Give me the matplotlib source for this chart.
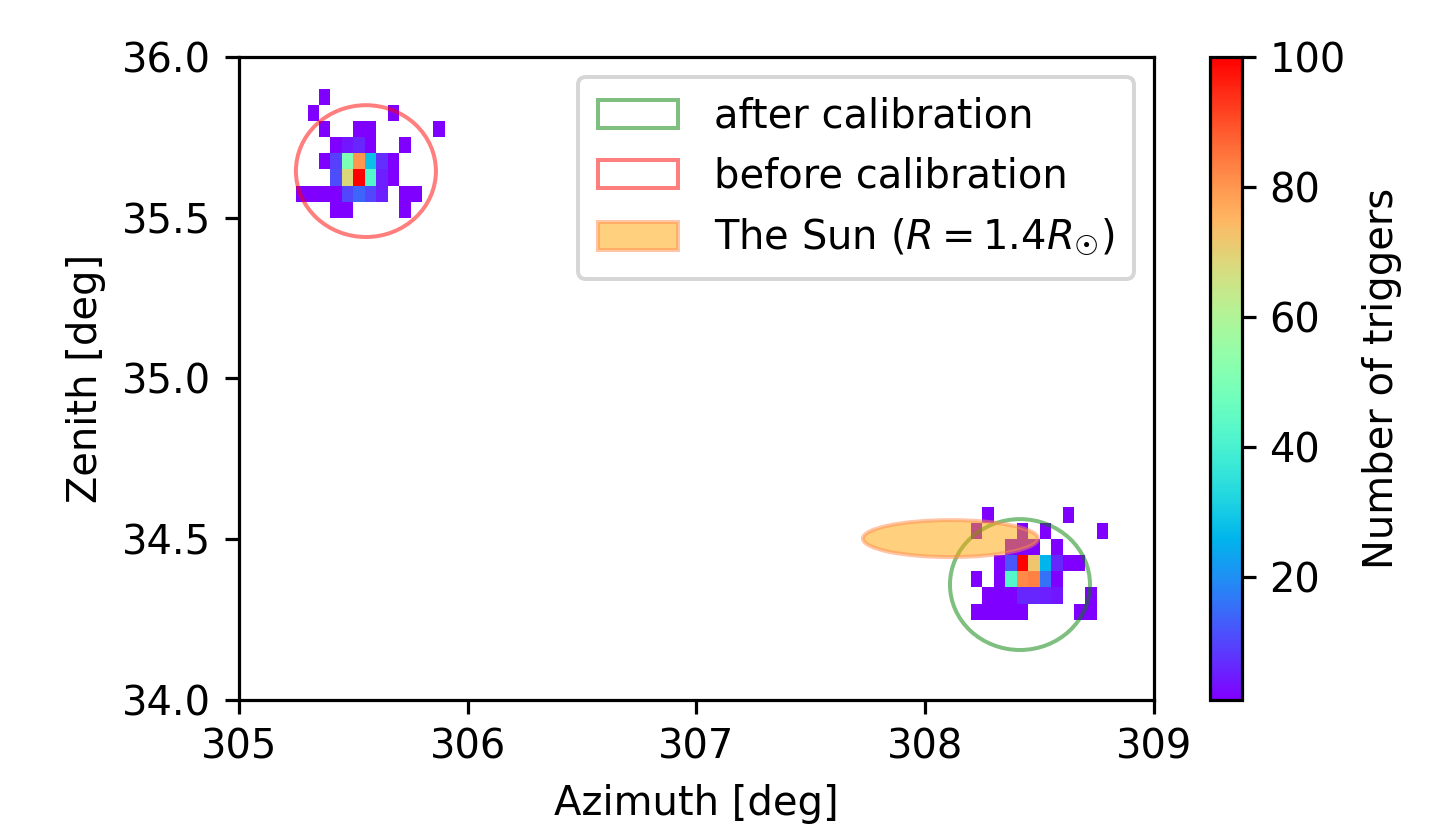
import numpy as np
import matplotlib
matplotlib.use('Agg')
import matplotlib.pyplot as plt
from matplotlib.patches import Ellipse

# trigger map, 0.05 deg bins (bin centres + counts)
az_before = [305.375,
             305.325, 305.675,
             305.375, 305.525, 305.575, 305.875,
             305.425, 305.475, 305.525, 305.575, 305.725,
             305.375, 305.425, 305.475, 305.525, 305.575, 305.625, 305.675,
             305.425, 305.475, 305.525, 305.575, 305.625, 305.675,
             305.275, 305.325, 305.375, 305.425, 305.475, 305.525, 305.575, 305.625, 305.725, 305.775,
             305.425, 305.475, 305.725]
zen_before = [35.875,
              35.825, 35.825,
              35.775, 35.775, 35.775, 35.775,
              35.725, 35.725, 35.725, 35.725, 35.725,
              35.675, 35.675, 35.675, 35.675, 35.675, 35.675, 35.675,
              35.625, 35.625, 35.625, 35.625, 35.625, 35.625,
              35.575, 35.575, 35.575, 35.575, 35.575, 35.575, 35.575, 35.575, 35.575, 35.575,
              35.525, 35.525, 35.525]
cnt_before = [1,
              1, 1,
              1, 1, 1, 1,
              1, 4, 6, 1, 1,
              1, 9, 50, 80, 28, 7, 1,
              11, 68, 100, 42, 5, 1,
              1, 1, 1, 1, 10, 14, 10, 5, 1, 1,
              1, 1, 1]

az_after = [308.275, 308.625,
            308.225, 308.425, 308.525, 308.775,
            308.375, 308.425, 308.475, 308.575,
            308.325, 308.375, 308.425, 308.475, 308.525, 308.575, 308.625, 308.675,
            308.225, 308.325, 308.375, 308.425, 308.475, 308.525, 308.575,
            308.275, 308.325, 308.375, 308.425, 308.475, 308.525, 308.575, 308.725,
            308.225, 308.275, 308.325, 308.375, 308.425, 308.675, 308.725]
zen_after = [34.575, 34.575,
             34.525, 34.525, 34.525, 34.525,
             34.475, 34.475, 34.475, 34.475,
             34.425, 34.425, 34.425, 34.425, 34.425, 34.425, 34.425, 34.425,
             34.375, 34.375, 34.375, 34.375, 34.375, 34.375, 34.375,
             34.325, 34.325, 34.325, 34.325, 34.325, 34.325, 34.325, 34.325,
             34.275, 34.275, 34.275, 34.275, 34.275, 34.275, 34.275]
cnt_after = [1, 1,
             1, 1, 1, 1,
             1, 1, 1, 1,
             1, 12, 100, 72, 26, 6, 1, 1,
             1, 1, 42, 82, 83, 16, 1,
             1, 1, 1, 6, 6, 5, 4, 1,
             1, 1, 1, 1, 1, 1, 1]

# circles (centre az, centre zen, width, height)
before_circ = (305.555, 35.645, 0.612, 0.41)
after_circ = (308.414, 34.359, 0.612, 0.407)
sun = (308.11, 34.502, 0.765, 0.115)

az = np.array(az_before + az_after)
zen = np.array(zen_before + zen_after)
cnt = np.array(cnt_before + cnt_after, dtype=float)

xbins = np.linspace(305, 309, 81)
ybins = np.linspace(34, 36, 41)

DPI = 288
fig = plt.figure(figsize=(1442 / DPI, 828 / DPI), dpi=DPI)
ax = fig.add_axes([0.1657, 0.1546, 0.6346, 0.7766])
cax = fig.add_axes([0.839, 0.1546, 0.022, 0.7766])

h = ax.hist2d(az, zen, bins=[xbins, ybins], weights=cnt, cmin=1,
              cmap='rainbow', vmin=1, vmax=100)

ax.add_patch(Ellipse(after_circ[:2], after_circ[2], after_circ[3], fill=False,
                     edgecolor='green', alpha=0.5, lw=1.0, label='after calibration'))
ax.add_patch(Ellipse(before_circ[:2], before_circ[2], before_circ[3], fill=False,
                     edgecolor='red', alpha=0.5, lw=1.0, label='before calibration'))
ax.add_patch(Ellipse(sun[:2], sun[2], sun[3], facecolor='orange', edgecolor='#ff8c50',
                     alpha=0.5, lw=1.0, label='The Sun ($R=1.4R_{☉}$)'))

ax.set_xlim(305, 309)
ax.set_ylim(34, 36)
ax.set_xticks([305, 306, 307, 308, 309])
ax.set_yticks([34.0, 34.5, 35.0, 35.5, 36.0])
ax.set_xlabel('Azimuth [deg]')
ax.set_ylabel('Zenith [deg]')
ax.legend(loc='upper right', handletextpad=0.9, borderpad=0.5)

cb = fig.colorbar(h[3], cax=cax)
cb.set_ticks([20, 40, 60, 80, 100])
cb.set_label('Number of triggers')

fig.savefig('out.png', dpi=DPI)
